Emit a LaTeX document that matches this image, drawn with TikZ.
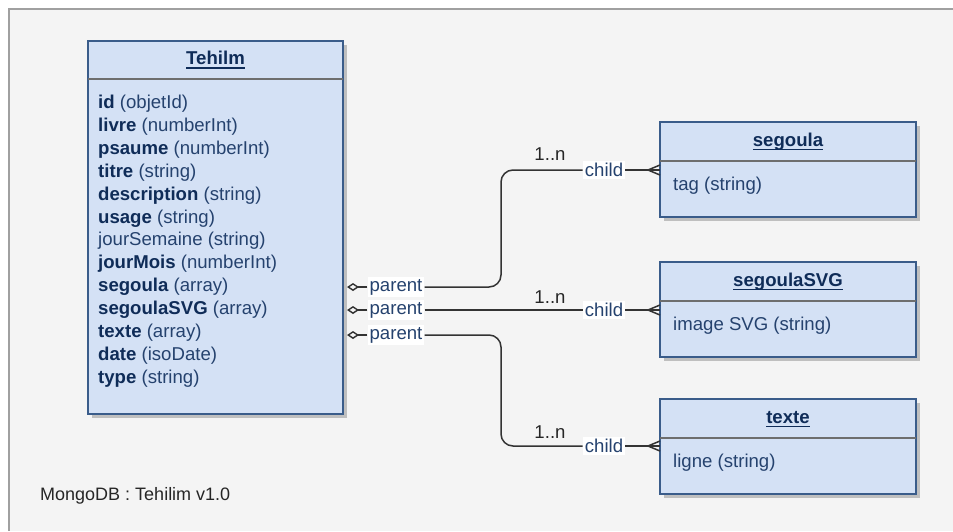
\documentclass[tikz,border=0pt]{standalone}
\usepackage{fontspec}
\setmainfont{Liberation Sans}
\usetikzlibrary{arrows.meta,shadows}
\definecolor{bgc}{HTML}{F4F4F4}
\definecolor{boxfill}{HTML}{D4E1F5}
\definecolor{boxline}{HTML}{3A5C8A}
\definecolor{namec}{HTML}{0F2C58}
\definecolor{typec}{HTML}{25426E}
\definecolor{divc}{HTML}{6E6E6E}
\definecolor{connc}{HTML}{333333}
\definecolor{framec}{HTML}{A0A0A0}
\newcommand\myul[1]{\setbox0\hbox{#1}\rlap{\rule[-4pt]{\wd0}{1.3pt}}\box0}
\newcommand\fname[1]{\textcolor{namec}{\bfseries #1}}
\tikzset{
  entity/.style={draw=boxline, line width=1.6pt, fill=boxfill, anchor=north west,
    inner sep=0pt, outer sep=0pt,
    drop shadow={shadow xshift=3.5pt, shadow yshift=-3.5pt, fill=black!25, opacity=1}},
  divider/.style={draw=divc, line width=1.6pt},
  etitle/.style={anchor=base, inner sep=0pt, text=namec},
  attr/.style={anchor=base west, inner sep=0pt, text=typec},
  conn/.style={draw=connc, line width=1.5pt, rounded corners=12pt},
  rolelabel/.style={fill=white, text=typec, inner sep=2pt},
  mult/.style={text=black!85, inner sep=0pt},
}
\begin{document}
\begin{tikzpicture}[x=1pt, y=-1pt, font=\fontsize{18.6pt}{23pt}\selectfont]
\useasboundingbox (0,0) rectangle (953,531);
\fill[white] (0,0) rectangle (953,531);
\fill[bgc] (9,9) rectangle (953,531);
\draw[framec, line width=1.5pt] (9,531) -- (9,9) -- (953,9);

% Tehilm entity
\node[entity, minimum width=255pt, minimum height=373pt] (Tehilm) at (88,41) {};
\draw[divider] (Tehilm.west |- 0,79) -- (Tehilm.east |- 0,79);
\node[etitle] (TehilmT) at (215.5,64.7) {\myul{\bfseries Tehilm}};
\foreach \txt [count=\i] in {
  {\fname{id} (objetId)},
  {\fname{livre} (numberInt)},
  {\fname{psaume} (numberInt)},
  {\fname{titre} (string)},
  {\fname{description} (string)},
  {\fname{usage} (string)},
  {jourSemaine (string)},
  {\fname{jourMois} (numberInt)},
  {\fname{segoula} (array)},
  {\fname{segoulaSVG} (array)},
  {\fname{texte} (array)},
  {\fname{date} (isoDate)},
  {\fname{type} (string)}}
  \node[attr] (attr\i) at (98, {108.5+22.9*(\i-1)}) {\txt};

% segoula entity
\node[entity, minimum width=256pt, minimum height=95pt] (segoula) at (660,122) {};
\draw[divider] (segoula.west |- 0,161) -- (segoula.east |- 0,161);
\node[etitle] (segoulaT) at (788,146.2) {\myul{\bfseries segoula}};
\node[attr] (segoulaA) at (673,190.5) {tag (string)};

% segoulaSVG entity
\node[entity, minimum width=256pt, minimum height=95pt] (segoulaSVG) at (660,262) {};
\draw[divider] (segoulaSVG.west |- 0,301) -- (segoulaSVG.east |- 0,301);
\node[etitle] (segoulaSVGT) at (788,286.2) {\myul{\bfseries segoulaSVG}};
\node[attr] (segoulaSVGA) at (673,330.5) {image SVG (string)};

% texte entity
\node[entity, minimum width=256pt, minimum height=95pt] (texte) at (660,399) {};
\draw[divider] (texte.west |- 0,438) -- (texte.east |- 0,438);
\node[etitle] (texteT) at (788,423.2) {\myul{\bfseries texte}};
\node[attr] (texteA) at (673,467) {ligne (string)};

% role labels
\node[rolelabel] (par1) at (396,287) {parent};
\node[rolelabel] (par2) at (396,310) {parent};
\node[rolelabel] (par3) at (396,335) {parent};
\node[rolelabel] (ch1) at (604,170) {child};
\node[rolelabel] (ch2) at (604,310) {child};
\node[rolelabel] (ch3) at (604,446) {child};
\node[mult] (m1) at (550,154) {1..n};
\node[mult] (m2) at (550,297) {1..n};
\node[mult] (m3) at (550,432) {1..n};

\coordinate (vx) at (501,0);

% parent ends (open diamonds)
\foreach \p in {par1,par2,par3}
  \draw[conn, -{Diamond[open, length=12pt, width=8pt, line width=1.4pt]}, shorten >=4pt]
    (\p.west) -- (Tehilm.east |- \p.west);

% connectors
\draw[conn] (par1.east) -| (vx |- ch1.west) -- (ch1.west);
\draw[conn] (par2.east) -- (ch2.west);
\draw[conn] (par3.east) -| (vx |- ch3.west) -- (ch3.west);

% child ends (crow's feet)
\draw[conn] (ch1.east) -- (segoula.west |- ch1.east) coordinate (cf1);
\draw[conn] (ch2.east) -- (segoulaSVG.west |- ch2.east) coordinate (cf2);
\draw[conn] (ch3.east) -- (texte.west |- ch3.east) coordinate (cf3);
\foreach \c in {cf1,cf2,cf3}
  \draw[conn, rounded corners=0pt] (\c) ++(0,-5) -- ++(-12,5) -- ++(12,5);

% caption
\node[anchor=base west, inner sep=0pt, text=black!85, font=\fontsize{18pt}{23pt}\selectfont] (caption) at (40,500) {MongoDB : Tehilim v1.0};
\end{tikzpicture}
\end{document}
